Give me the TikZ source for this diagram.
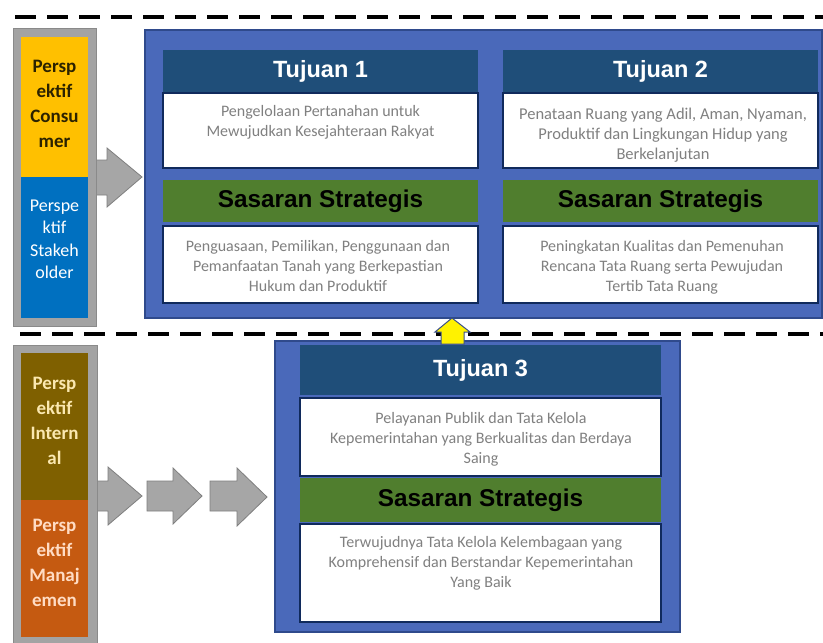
\documentclass[tikz,border=0pt]{standalone}
\usepackage{fontspec}
\setmainfont{Carlito}
\newfontfamily\arialf{Liberation Sans}
\definecolor{panelblue}{HTML}{4A69BA}
\definecolor{paneledge}{HTML}{2F4A8C}
\definecolor{headblue}{HTML}{1F4E79}
\definecolor{boxedge}{HTML}{102A5C}
\definecolor{sasgreen}{HTML}{507E2E}
\definecolor{bodygray}{HTML}{808080}
\definecolor{frameg}{HTML}{A3A3A3}
\definecolor{frameedge}{HTML}{8A8A8A}
\definecolor{consyellow}{HTML}{FFC000}
\definecolor{stakeblue}{HTML}{0070C0}
\definecolor{intbrown}{HTML}{7F6000}
\definecolor{manorange}{HTML}{C55A11}
\definecolor{arrowfill}{HTML}{A6A6A6}
\definecolor{arrowedge}{HTML}{7F7F7F}
\definecolor{consytext}{HTML}{2B2200}
\definecolor{inttext}{HTML}{FBE8B0}
\definecolor{mantext}{HTML}{FFDCC4}
\definecolor{yarrowedge}{HTML}{3A4F8A}
\tikzset{
  panel/.style={draw=paneledge, line width=1.2pt, fill=panelblue, inner sep=0pt, outer sep=0pt},
  header/.style={fill=headblue, text=white, font=\arialf\bfseries\fontsize{23.5}{27}\selectfont, inner sep=0pt, outer sep=0pt},
  whitebox/.style={fill=white, draw=boxedge, line width=2pt, inner sep=0pt, outer sep=0pt},
  sasbar/.style={fill=sasgreen, text=black, font=\arialf\bfseries\fontsize{24.3}{28}\selectfont, inner sep=0pt, outer sep=0pt},
  bodytext/.style={text=bodygray, font=\fontsize{16}{20}\selectfont, align=center, inner sep=0pt},
  frame/.style={fill=frameg, draw=frameedge, line width=0.8pt, inner sep=0pt, outer sep=0pt},
  colorbox/.style={inner sep=0pt, outer sep=0pt, minimum width=67pt},
  labelbold/.style={font=\bfseries\fontsize{19}{25}\selectfont, align=center, inner sep=0pt},
  labelreg/.style={font=\fontsize{18}{22.5}\selectfont, align=center, inner sep=0pt},
  grayarrow/.style={fill=arrowfill, draw=arrowedge, line width=0.8pt, line join=miter},
  sepline/.style={draw=black, line width=4.5pt, dash pattern=on 21pt off 11pt},
}
\begin{document}
\begin{tikzpicture}[x=1pt,y=-1pt]
\useasboundingbox (0,0) rectangle (823,643);
\fill[white] (0,0) rectangle (823,643);

% separator lines
\coordinate (s1a) at (15,17); \coordinate (s1b) at (830,17);
\coordinate (s2a) at (20,334); \coordinate (s2b) at (830,334);
\draw[sepline] (s1a) -- (s1b);
\draw[sepline] (s2a) -- (s2b);

% gray arrows
\draw[grayarrow] (90,160) -- (107,160) -- (107,148) -- (142,177) -- (107,207) -- (107,195) -- (90,195) -- cycle;
\draw[grayarrow] (94,481) -- (108,481) -- (108,467) -- (142,496) -- (108,525) -- (108,511) -- (94,511) -- cycle;
\draw[grayarrow] (147,481) -- (173,481) -- (173,468) -- (202,496) -- (173,524) -- (173,511) -- (147,511) -- cycle;
\draw[grayarrow] (210,481) -- (237,481) -- (237,468) -- (267,497) -- (237,526) -- (237,511) -- (210,511) -- cycle;

% left perspective frames
\node[frame, minimum width=83pt, minimum height=298pt] (ftop) at (54.5,177) {};
\node[colorbox, fill=consyellow, minimum height=140pt] (cons) at (54.5,107) {};
\node[colorbox, fill=stakeblue, minimum height=141pt] (stake) at (54.5,247.5) {};
\node[labelbold, text=consytext] (conslab) at (54.5,103.5) {Persp\\ektif\\Consu\\mer};
\node[labelreg, text=white] (stakelab) at (54.5,239.5) {Perspe\\ktif\\Stakeh\\older};

\node[frame, minimum width=84pt, minimum height=310pt] (fbot) at (55,500) {};
\node[colorbox, fill=intbrown, minimum height=147pt] (int) at (54.5,426.5) {};
\node[colorbox, fill=manorange, minimum height=137pt] (man) at (54.5,568.5) {};
\node[labelbold, text=inttext] (intlab) at (54.5,421) {Persp\\ektif\\Intern\\al};
\node[labelbold, text=mantext] (manlab) at (54.5,563) {Persp\\ektif\\Manaj\\emen};

% top panel
\node[panel, minimum width=677pt, minimum height=288pt] (ptop) at (483.5,174) {};
\node[header, minimum width=315pt, minimum height=43pt] (t1h) at (320.5,71.5) {Tujuan 1};
\node[header, minimum width=315pt, minimum height=43pt] (t2h) at (660.5,71.5) {Tujuan 2};
\node[whitebox, minimum width=315pt, minimum height=75pt] (t1b) at (320.5,130.5) {};
\node[whitebox, minimum width=315pt, minimum height=75pt] (t2b) at (660.5,130.5) {};
\node[bodytext] (t1txt) at (320.5,122) {Pengelolaan Pertanahan untuk\\Mewujudkan Kesejahteraan Rakyat};
\node[bodytext, font=\fontsize{16.5}{20}\selectfont] (t2txt) at (663,135) {Penataan Ruang yang Adil, Aman, Nyaman,\\Produktif dan Lingkungan Hidup yang\\Berkelanjutan};
\node[sasbar, minimum width=315pt, minimum height=42pt] (s1h) at (320.5,201) {Sasaran Strategis};
\node[sasbar, minimum width=315pt, minimum height=42pt] (s2h) at (660.5,201) {Sasaran Strategis};
\node[whitebox, minimum width=315pt, minimum height=77pt] (s1b) at (320.5,264.5) {};
\node[whitebox, minimum width=315pt, minimum height=77pt] (s2b) at (660.5,264.5) {};
\node[bodytext] (s1txt) at (318,266) {Penguasaan, Pemilikan, Penggunaan dan\\Pemanfaatan Tanah yang Berkepastian\\Hukum dan Produktif};
\node[bodytext] (s2txt) at (662,267) {Peningkatan Kualitas dan Pemenuhan\\Rencana Tata Ruang serta Pewujudan\\Tertib Tata Ruang};

% bottom panel
\node[panel, minimum width=405pt, minimum height=291pt] (pbot) at (477.5,486.5) {};
\node[header, minimum width=361pt, minimum height=50pt] (t3h) at (480.5,370) {Tujuan 3};
\node[whitebox, minimum width=361pt, minimum height=78pt] (t3b) at (480.5,437) {};
\node[bodytext] (t3txt) at (481,439) {Pelayanan Publik dan Tata Kelola\\Kepemerintahan yang Berkualitas dan Berdaya\\Saing};
\node[sasbar, minimum width=361pt, minimum height=44pt] (s3h) at (480.5,500) {Sasaran Strategis};
\node[whitebox, minimum width=361pt, minimum height=98pt] (s3b) at (480.5,573) {};
\node[bodytext] (s3txt) at (481,563) {Terwujudnya Tata Kelola Kelembagaan yang\\Komprehensif dan Berstandar Kepemerintahan\\Yang Baik};

% yellow up arrow
\draw[fill=yellow, draw=yarrowedge, line width=1pt, line join=miter]
  (452,318) -- (470,332) -- (464,332) -- (464,344) -- (441,344) -- (441,332) -- (435,332) -- cycle;
\end{tikzpicture}
\end{document}
